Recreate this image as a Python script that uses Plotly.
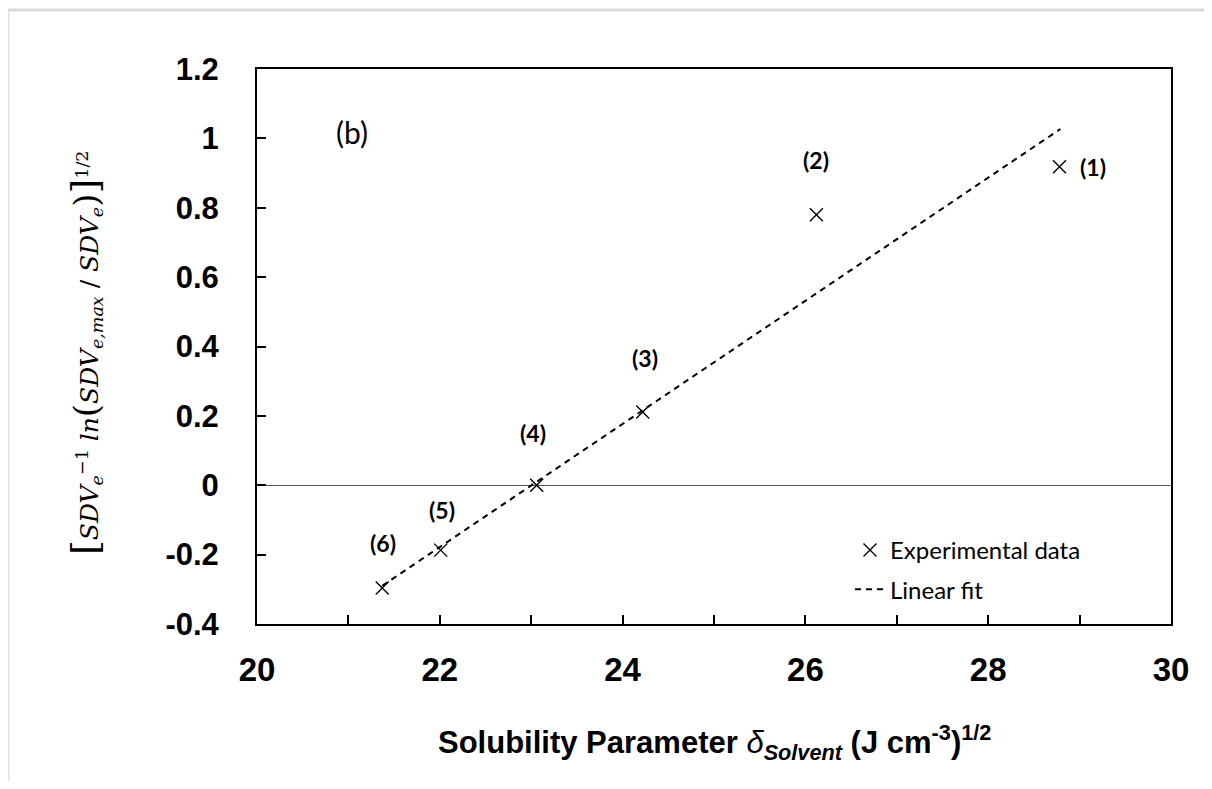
import plotly.graph_objects as go

# Data
solvent_delta = [28.78, 26.12, 24.22, 23.06, 22.01, 21.37]
response = [0.918, 0.78, 0.211, 0.0, -0.187, -0.296]
point_labels = ["(1)", "(2)", "(3)", "(4)", "(5)", "(6)"]

fit_x = [21.37, 28.79]
fit_y = [-0.29, 1.027]

x_ticks = [20, 22, 24, 26, 28, 30]
y_ticks = [-0.4, -0.2, 0, 0.2, 0.4, 0.6, 0.8, 1, 1.2]
y_tick_text = ["-0.4", "-0.2", "0", "0.2", "0.4", "0.6", "0.8", "1", "1.2"]

W, H = 1196, 773
L, T, R, B = 249, 61, 33, 157
PW, PH = W - L - R, H - T - B


def px(xp):
    return (xp - L) / PW


def py(yp):
    return (H - B - yp) / PH


fig = go.Figure()

fig.add_trace(go.Scatter(
    x=solvent_delta, y=response, mode="markers", name="Experimental data",
    legendgroup="a",
    marker=dict(symbol="x-thin-open", size=13, color="black",
                line=dict(color="black", width=1.4)),
))
fig.add_trace(go.Scatter(
    x=fit_x, y=fit_y, mode="lines", name="Linear fit", legendgroup="b",
    line=dict(color="black", width=2, dash="6px,5px"),
))

# point labels (pixel offsets from the marker)
offsets = {"(1)": (34, 0), "(2)": (0, -55), "(3)": (2, -54), "(4)": (-4, -52),
           "(5)": (1, -40), "(6)": (1, -45)}
for xv, yv, lab in zip(solvent_delta, response, point_labels):
    dx, dy = offsets[lab]
    fig.add_annotation(x=xv, y=yv, text=f"<b>{lab}</b>", showarrow=False,
                       xanchor="center", yanchor="middle",
                       xshift=dx, yshift=-dy,
                       font=dict(family="Lato", size=23, color="black"))

fig.add_annotation(xref="paper", yref="paper", x=px(344), y=py(124),
                   xanchor="center", yanchor="middle",
                   text="(b)", showarrow=False,
                   font=dict(family="Lato", size=30, color="black"))

# y-axis title
ytitle = ("<span style='font-size:38px'>[</span><i>SDV<sub>e</sub></i><sup>−1</sup> "
          "<i>ln</i><span style='font-size:34px'>(</span><i>SDV<sub>e,max</sub></i>"
          " / <i>SDV<sub>e</sub></i><span style='font-size:34px'>)</span>"
          "<span style='font-size:38px'>]</span><sup>1/2</sup>")
fig.add_annotation(xref="paper", yref="paper", x=px(77), y=py(345),
                   xanchor="center", yanchor="middle",
                   text=ytitle, textangle=-90, showarrow=False,
                   font=dict(family="DejaVu Serif", size=25, color="black"))

# x-axis title
xtitle = ("<b>Solubility Parameter </b><i>δ<sub><b>Solvent</b></sub></i>"
          "<b> (J cm<sup>-3</sup>)<sup>1/2</sup></b>")
fig.add_annotation(xref="paper", yref="paper", x=0.5, y=py(734),
                   xanchor="center", yanchor="middle",
                   text=xtitle, showarrow=False,
                   font=dict(family="Liberation Sans", size=31, color="black"))

# outer light frame
fig.add_shape(type="line", xref="paper", yref="paper",
              x0=px(0), x1=px(W), y0=py(2), y1=py(2),
              line=dict(color="#d9d9d9", width=3))
fig.add_shape(type="line", xref="paper", yref="paper",
              x0=px(0.5), x1=px(0.5), y0=py(2), y1=py(H),
              line=dict(color="#e3e3e3", width=2))

fig.update_layout(
    width=W, height=H,
    margin=dict(l=L, r=R, t=T, b=B),
    paper_bgcolor="white", plot_bgcolor="white",
    showlegend=True,
    legend=dict(x=px(842), y=py(520), xanchor="left", yanchor="top",
                bgcolor="rgba(0,0,0,0)", font=dict(family="Lato", size=24, color="black"),
                itemwidth=30, tracegroupgap=5),
)
fig.update_xaxes(
    range=[20, 30], tickvals=x_ticks, ticktext=[str(v) for v in x_ticks],
    ticks="inside", ticklen=9, tickwidth=1.5, tickcolor="black",
    minor=dict(dtick=1, ticks="inside", ticklen=9, tickwidth=1.5, tickcolor="black"),
    showline=True, linecolor="black", linewidth=2, mirror=True,
    showgrid=False, zeroline=False,
    tickfont=dict(family="Liberation Sans", size=33, color="black", weight="bold"),
    ticklabelstandoff=15,
)
fig.update_yaxes(
    range=[-0.4, 1.2], tickvals=y_ticks, ticktext=y_tick_text,
    ticks="inside", ticklen=9, tickwidth=1.5, tickcolor="black",
    showline=True, linecolor="black", linewidth=2, mirror=True,
    showgrid=False, zeroline=True, zerolinecolor="#555555", zerolinewidth=1,
    tickfont=dict(family="Liberation Sans", size=31, color="black", weight="bold"),
    ticklabelstandoff=30,
)

fig.write_html("out.html")
